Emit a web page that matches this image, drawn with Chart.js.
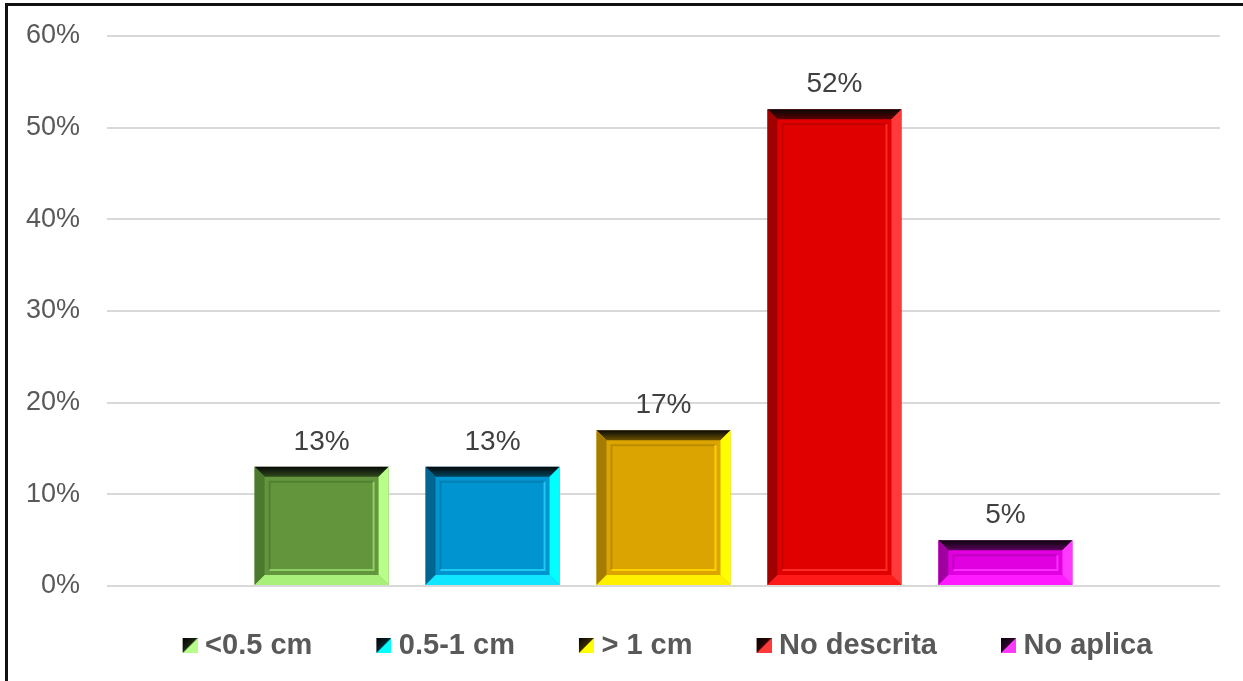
<!DOCTYPE html>
<html>
<head>
<meta charset="utf-8">
<script src="https://cdn.jsdelivr.net/npm/chart.js@4.4.0/dist/chart.umd.min.js"></script>
<style>
  html, body { margin: 0; padding: 0; background: #fff; }
  #frame {
    position: absolute; left: 5px; top: 3px; right: 0; bottom: 0;
    border-top: 3px solid #111; border-left: 3px solid #111;
  }
  #wrap { position: absolute; left: 0; top: 0; width: 1243px; height: 681px; }
</style>
</head>
<body>
<div id="frame"></div>
<div id="wrap"><canvas id="chart" width="1243" height="681"></canvas></div>
<script>
// -----------------------------
// Données
// -----------------------------
const seriesNames = ["<0.5 cm", "0.5-1 cm", "> 1 cm", "No descrita", "No aplica"];
const seriesValues = [13, 13, 17, 52, 5];
const yTicks = [0, 10, 20, 30, 40, 50, 60];

// couleurs (face, biseau haut, gauche, droite, bas, ligne interne sombre / claire)
const faceColors   = ["#63963c", "#0095d0", "#dba400", "#e00000", "#e000e0"];
const topColors    = ["#2f4a1c", "#00455f", "#6a5000", "#5a0000", "#5a005a"];
const leftColors   = ["#4b7a2e", "#00668f", "#a67c00", "#a00000", "#a000a0"];
const rightColors  = ["#b8ff8a", "#00ffff", "#ffff00", "#ff3a3a", "#ff3aff"];
const bottomColors = ["#a8f07a", "#10e6ff", "#fff000", "#ff1a1a", "#ff1aff"];
const innerDark    = ["#527f32", "#0080b2", "#bb8c00", "#c00000", "#c000c0"];
const innerLight   = ["#8fd066", "#20c8f0", "#ffd000", "#ff2a2a", "#ff2aff"];

// -----------------------------
// Icônes de légende
// -----------------------------
function makeIcon(i) {
    const c = document.createElement("canvas");
    c.width = 41;
    c.height = 15;
    const g = c.getContext("2d");
    const x0 = 26, s = 15;
    g.fillStyle = rightColors[i];
    g.fillRect(x0, 0, s, s);
    const grad = g.createLinearGradient(x0, 0, x0 + s, s);
    grad.addColorStop(0, "#050505");
    grad.addColorStop(1, topColors[i]);
    g.fillStyle = grad;
    g.beginPath();
    g.moveTo(x0, 0);
    g.lineTo(x0 + s, 0);
    g.lineTo(x0, s);
    g.closePath();
    g.fill();
    g.fillStyle = faceColors[i];
    g.beginPath();
    g.moveTo(x0 + s - 3, 3);
    g.lineTo(x0 + s - 1, 1);
    g.lineTo(x0 + 1, s - 1);
    g.lineTo(x0 + 3, s - 3);
    g.closePath();
    g.fill();
    return c;
}
const icons = seriesNames.map((_, i) => makeIcon(i));

// -----------------------------
// Plugins
// -----------------------------
const bevelPlugin = {
    id: "bevel",
    afterDatasetsDraw(chart) {
        const ctx = chart.ctx;
        chart.data.datasets.forEach((ds, i) => {
            const meta = chart.getDatasetMeta(i);
            meta.data.forEach(bar => {
                const p = bar.getProps(["x", "y", "base", "width"], true);
                const l = p.x - p.width / 2, r = p.x + p.width / 2;
                const t = p.y, b = p.base;
                const e = 10;
                ctx.save();
                // haut
                const gt = ctx.createLinearGradient(0, t, 0, t + e);
                gt.addColorStop(0, "#080808");
                gt.addColorStop(1, topColors[i]);
                ctx.fillStyle = gt;
                poly(ctx, [[l, t], [r, t], [r - e, t + e], [l + e, t + e]]);
                // gauche
                ctx.fillStyle = leftColors[i];
                poly(ctx, [[l, t], [l + e, t + e], [l + e, b - e], [l, b]]);
                // droite
                ctx.fillStyle = rightColors[i];
                poly(ctx, [[r, t], [r, b], [r - e, b - e], [r - e, t + e]]);
                // bas
                ctx.fillStyle = bottomColors[i];
                poly(ctx, [[l, b], [l + e, b - e], [r - e, b - e], [r, b]]);
                // lignes internes
                const k = 15;
                ctx.lineWidth = 2;
                ctx.strokeStyle = innerDark[i];
                ctx.beginPath();
                ctx.moveTo(l + k, b - k);
                ctx.lineTo(l + k, t + k);
                ctx.lineTo(r - k, t + k);
                ctx.stroke();
                ctx.strokeStyle = innerLight[i];
                ctx.beginPath();
                ctx.moveTo(r - k, t + k);
                ctx.lineTo(r - k, b - k);
                ctx.lineTo(l + k, b - k);
                ctx.stroke();
                ctx.restore();
            });
        });
    }
};

function poly(ctx, pts) {
    ctx.beginPath();
    ctx.moveTo(pts[0][0], pts[0][1]);
    for (let j = 1; j < pts.length; j++) ctx.lineTo(pts[j][0], pts[j][1]);
    ctx.closePath();
    ctx.fill();
}

const valueLabels = {
    id: "valueLabels",
    afterDatasetsDraw(chart) {
        const ctx = chart.ctx;
        ctx.save();
        ctx.font = "28px 'Liberation Sans', Arial, sans-serif";
        ctx.fillStyle = "#404040";
        ctx.textAlign = "center";
        ctx.textBaseline = "alphabetic";
        chart.data.datasets.forEach((ds, i) => {
            chart.getDatasetMeta(i).data.forEach((bar, j) => {
                ctx.fillText(ds.data[j] + "%", bar.x, bar.y - 17);
            });
        });
        ctx.restore();
    }
};

// décale la légende vers la droite (comme dans l'original)
const legendShift = {
    id: "legendShift",
    afterLayout(chart) {
        chart.legend.left += 35;
        chart.legend.right += 35;
    }
};

// -----------------------------
// Graphique
// -----------------------------
new Chart(document.getElementById("chart"), {
    type: "bar",
    data: {
        labels: [""],
        datasets: seriesNames.map((name, i) => ({
            label: name,
            data: [seriesValues[i]],
            backgroundColor: faceColors[i],
            borderWidth: 0,
            categoryPercentage: 0.768,
            barPercentage: 0.784
        }))
    },
    options: {
        responsive: false,
        animation: false,
        layout: { padding: { left: 26, right: 23, top: 36, bottom: 11 } },
        scales: {
            x: { display: false },
            y: {
                min: 0,
                max: 60,
                afterBuildTicks(scale) {
                    scale.ticks = yTicks.map(v => ({ value: v }));
                },
                afterFit(scale) {
                    scale.width = 81;
                    scale.paddingTop = 0;
                    scale.paddingBottom = 0;
                },
                border: { display: false },
                grid: { color: "#d9d9d9", lineWidth: 2, drawTicks: false },
                ticks: {
                    padding: 27,
                    color: "#595959",
                    font: { family: "'Liberation Sans', Arial, sans-serif", size: 27 },
                    callback: v => v + "%"
                }
            }
        },
        plugins: {
            tooltip: { enabled: false },
            legend: {
                position: "bottom",
                labels: {
                    usePointStyle: true,
                    pointStyleWidth: 27,
                    padding: 45,
                    color: "#595959",
                    font: { family: "'Liberation Sans', Arial, sans-serif", size: 29, weight: "bold" },
                    generateLabels(chart) {
                        return chart.data.datasets.map((ds, i) => ({
                            text: ds.label,
                            pointStyle: icons[i],
                            fillStyle: "rgba(0,0,0,0)",
                            strokeStyle: "rgba(0,0,0,0)",
                            lineWidth: 0,
                            hidden: false,
                            datasetIndex: i,
                            fontColor: "#595959"
                        }));
                    }
                }
            }
        }
    },
    plugins: [bevelPlugin, valueLabels, legendShift]
});
</script>
</body>
</html>
